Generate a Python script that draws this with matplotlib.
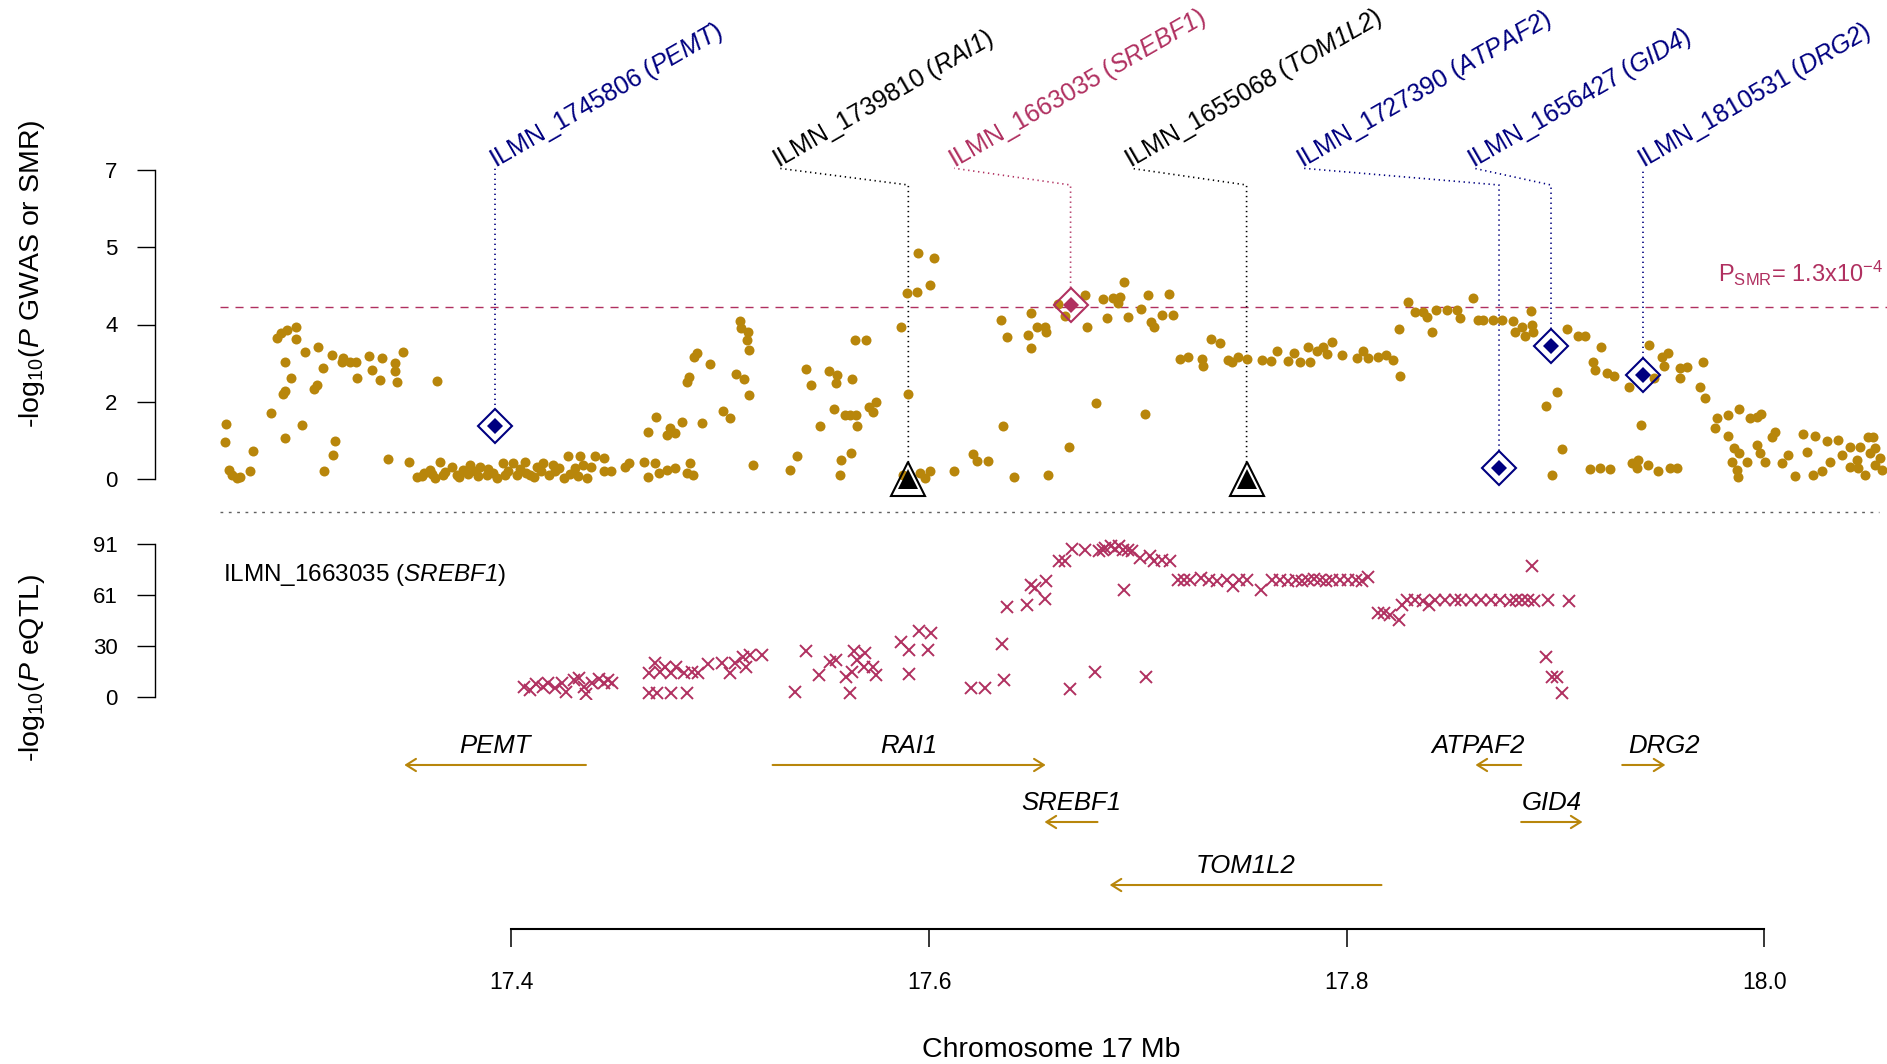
import matplotlib
matplotlib.use("Agg")
import matplotlib.pyplot as plt

plt.rcParams['font.family'] = ['Liberation Sans', 'DejaVu Sans']
plt.rcParams['mathtext.fontset'] = 'custom'
plt.rcParams['mathtext.rm'] = 'Liberation Sans'
plt.rcParams['mathtext.it'] = 'Liberation Sans:italic'
plt.rcParams['mathtext.bf'] = 'Liberation Sans:bold'
# \mathsf is used for gene names so their digits come out italic as well
plt.rcParams['mathtext.sf'] = 'Liberation Sans:italic'

GOLD = '#B8860B'
MAROON = '#B03060'
NAVY = '#000080'

# GWAS -log10(P) along chr17 (Mb)
gwas_mb = [
    17.2633, 17.2627, 17.2649, 17.2660, 17.2685, 17.2700, 17.2748, 17.2761, 17.2847, 17.2916,
    17.2908, 17.2916, 17.2945, 17.2916, 17.2879, 17.2897, 17.2924, 17.2966, 17.2967, 17.2996,
    17.3012, 17.3055, 17.3071, 17.3072, 17.3100, 17.3103, 17.3144, 17.3155, 17.3143, 17.3187,
    17.3195, 17.3227, 17.3254, 17.3261, 17.3317, 17.3333, 17.3373, 17.3381, 17.3441, 17.3441,
    17.3451, 17.3481, 17.3646, 17.3411, 17.3511,
    17.3547, 17.3580, 17.3610, 17.3634, 17.3658, 17.3674, 17.3714, 17.3738, 17.3770, 17.3802,
    17.3826, 17.3850, 17.3882, 17.3930, 17.3962, 17.3986, 17.4010, 17.4026, 17.4065, 17.4090,
    17.4121, 17.4153, 17.4200, 17.4210, 17.4250, 17.4273, 17.4305, 17.4330, 17.4345, 17.4360,
    17.4400, 17.3570, 17.3620, 17.3680, 17.3750, 17.3790, 17.3840, 17.3890, 17.3910, 17.3970,
    17.4040, 17.4070, 17.4110, 17.4140, 17.4180, 17.4230, 17.4280, 17.4320, 17.4380,
    17.4442, 17.4442, 17.4477, 17.4545, 17.4561, 17.4633, 17.4656, 17.4688, 17.4705, 17.4744,
    17.4784, 17.4856, 17.4840, 17.4871, 17.4656, 17.4691, 17.4744, 17.4760, 17.4784, 17.4815,
    17.4913, 17.4839, 17.4850, 17.4876, 17.4890, 17.4949, 17.5015, 17.5048, 17.5075, 17.5114,
    17.5140, 17.5095, 17.5098, 17.5135, 17.5130, 17.5136, 17.5159, 17.5334, 17.5368, 17.5411,
    17.5433, 17.5478, 17.5523, 17.5558, 17.5553, 17.5631, 17.5545, 17.5598, 17.5622, 17.5649,
    17.5657, 17.5577, 17.5627, 17.5575, 17.5645, 17.5698, 17.5714, 17.5733, 17.5744, 17.5864,
    17.5896, 17.5941, 17.5949, 17.6022, 17.6006, 17.5900, 17.5877, 17.5957, 17.6005, 17.5980,
    17.6119, 17.6209, 17.6228, 17.6284, 17.6356, 17.6409, 17.6343, 17.6372, 17.6476, 17.6487,
    17.6489, 17.6516,
    17.6556, 17.6560, 17.6620, 17.6652, 17.6748, 17.6756, 17.6835, 17.6851, 17.6883, 17.6907,
    17.6915, 17.6936, 17.6955, 17.7014, 17.7050, 17.7062, 17.7078, 17.7117, 17.7148, 17.7170,
    17.6798, 17.7035, 17.6671, 17.6572, 17.7202, 17.7242, 17.7309, 17.7312, 17.7350, 17.7393,
    17.7434, 17.7450, 17.7482, 17.7522, 17.7593, 17.7636, 17.7668, 17.7720, 17.7749, 17.7777,
    17.7817, 17.7825, 17.7860, 17.7888, 17.7904, 17.7928, 17.7978, 17.8048, 17.8080, 17.8104,
    17.8152, 17.8189, 17.8221, 17.8256, 17.8253, 17.8293, 17.8328, 17.8368, 17.8384, 17.8408,
    17.8429, 17.8479, 17.8528, 17.8543, 17.8604, 17.8631,
    17.8655, 17.8703, 17.8743, 17.8799, 17.8807, 17.8839, 17.8855, 17.8884, 17.8887, 17.8895,
    17.9055, 17.9106, 17.9143, 17.9217, 17.9182, 17.9190, 17.9246, 17.9283, 17.9351, 17.9449,
    17.9509, 17.9538, 17.9518, 17.9470, 17.9596, 17.9628, 17.9599, 17.9709, 17.9693, 17.9717,
    17.9009, 17.8955, 17.9410, 17.9033, 17.8982, 17.9166, 17.9214, 17.9262, 17.9365, 17.9397,
    17.9389, 17.9445, 17.9493, 17.9549, 17.9581, 17.9772, 17.9764, 17.9828, 17.9877, 17.9932,
    17.9983, 17.9964, 17.9827, 17.9854, 17.9846, 17.9870, 17.9873, 17.9877, 17.9917, 17.9965,
    17.9981, 18.0005, 18.0037, 18.0053, 18.0085, 18.0114, 18.0149, 18.0184, 18.0204, 18.0244,
    18.0236, 18.0276, 18.0303, 18.0316, 18.0352, 18.0371, 18.0411, 18.0411, 18.0443, 18.0459,
    18.0483, 18.0499, 18.0523, 18.0507, 18.0531, 18.0555, 18.0563, 18.0451, 18.0531,
]
gwas_p = [
    1.24, 0.84, 0.20, 0.09, 0.02, 0.05, 0.19, 0.64, 1.50, 0.94,
    1.92, 2.00, 2.29, 2.64, 3.19, 3.30, 3.38, 3.45, 3.17, 1.22,
    2.87, 2.05, 2.14, 2.99, 2.51, 0.17, 0.54, 0.85, 2.81, 2.64,
    2.74, 2.66, 2.65, 2.29, 2.79, 2.47, 2.24, 2.75, 2.62, 2.45,
    2.20, 2.87, 2.21, 0.45, 0.38,
    0.04, 0.13, 0.20, 0.02, 0.39, 0.09, 0.28, 0.09, 0.20, 0.32,
    0.17, 0.28, 0.09, 0.02, 0.36, 0.17, 0.36, 0.09, 0.39, 0.09,
    0.28, 0.36, 0.32, 0.17, 0.02, 0.51, 0.24, 0.51, 0.32, 0.02,
    0.51, 0.07, 0.11, 0.15, 0.05, 0.12, 0.06, 0.22, 0.13, 0.08,
    0.23, 0.14, 0.05, 0.19, 0.10, 0.26, 0.12, 0.06, 0.27,
    0.47, 0.17, 0.17, 0.28, 0.36, 0.38, 0.05, 0.36, 0.13, 0.20,
    0.24, 0.36, 0.13, 0.09, 1.06, 1.41, 1.00, 1.15, 1.04, 1.30,
    1.26, 2.19, 2.32, 2.77, 2.85, 2.60, 1.53, 1.39, 2.38, 2.26,
    1.90, 3.57, 3.42, 3.34, 3.14, 2.92, 0.31, 0.20, 0.52, 2.49,
    2.13, 1.21, 2.44, 2.36, 2.18, 2.26, 1.59, 1.44, 1.44, 1.44,
    1.21, 0.43, 0.58, 0.09, 3.14, 3.14, 1.63, 1.51, 1.74, 3.45,
    4.21, 4.23, 5.12, 5.00, 4.39, 1.93, 0.09, 0.13, 0.17, 0.02,
    0.18, 0.57, 0.41, 0.41, 1.20, 0.05, 3.61, 3.21, 3.27, 3.75,
    2.96, 3.45,
    3.45, 3.32, 3.97, 3.70, 4.16, 3.45, 4.08, 3.64, 4.10, 3.98,
    4.13, 4.47, 3.67, 3.85, 4.16, 3.56, 3.45, 3.71, 4.18, 3.72,
    1.73, 1.47, 0.72, 0.08, 2.72, 2.76, 2.72, 2.55, 3.17, 3.08,
    2.70, 2.65, 2.77, 2.72, 2.70, 2.68, 2.89, 2.68, 2.85, 2.66,
    2.98, 2.66, 2.89, 3.00, 2.83, 3.11, 2.82, 2.74, 2.91, 2.74,
    2.77, 2.81, 2.70, 2.34, 3.39, 4.02, 3.78, 3.79, 3.68, 3.33,
    3.83, 3.82, 3.83, 3.64, 4.10, 3.61,
    3.61, 3.61, 3.61, 3.57, 3.34, 3.45, 3.23, 3.81, 3.49, 3.34,
    3.39, 3.25, 3.25, 2.98, 2.65, 2.46, 2.41, 2.34, 2.09, 3.03,
    2.77, 2.85, 2.55, 2.28, 2.51, 2.53, 2.28, 2.65, 2.09, 1.83,
    1.96, 1.66, 1.23, 0.67, 0.08, 0.23, 0.26, 0.22, 0.37, 0.43,
    0.24, 0.32, 0.17, 0.24, 0.24, 1.38, 1.15, 1.45, 1.59, 1.39,
    1.47, 1.41, 0.98, 0.70, 0.39, 0.20, 0.05, 0.58, 0.39, 0.77,
    0.58, 0.39, 0.96, 1.07, 0.36, 0.54, 0.07, 1.02, 0.62, 0.98,
    0.09, 0.17, 0.85, 0.39, 0.88, 0.54, 0.73, 0.28, 0.43, 0.73,
    0.09, 0.96, 0.96, 0.58, 0.32, 0.47, 0.20, 0.24, 0.70,
]

# eQTL -log10(P) for probe ILMN_1663035 (SREBF1)
eqtl_mb = [
    17.4060, 17.4087, 17.4118, 17.4152, 17.4177, 17.4211, 17.4242, 17.4263, 17.4299, 17.4325,
    17.4346, 17.4359, 17.4385, 17.4418, 17.4444, 17.4463, 17.4483,
    17.4658, 17.4689, 17.4710, 17.4736, 17.4762, 17.4787, 17.4826, 17.4865, 17.4896, 17.4943,
    17.5007, 17.5046, 17.5072, 17.5111, 17.5124, 17.5145, 17.5202,
    17.4658, 17.4697, 17.4762, 17.4839,
    17.5358, 17.5410, 17.5475, 17.5527, 17.5553, 17.5603, 17.5624, 17.5629, 17.5642, 17.5655,
    17.5694, 17.5689, 17.5733, 17.5746, 17.5865, 17.5905, 17.5905, 17.5951, 17.5995, 17.6008,
    17.6203, 17.6268, 17.6358,
    17.6348, 17.6373, 17.6471, 17.6490, 17.6509, 17.6557, 17.6560, 17.6622, 17.6650, 17.6676,
    17.6683, 17.6746, 17.6797, 17.6831, 17.6813, 17.6841, 17.6870, 17.6889, 17.6908, 17.6927,
    17.6955, 17.6974, 17.6935, 17.7011, 17.7040, 17.7059, 17.7078, 17.7116, 17.7153, 17.7191,
    17.7220, 17.7248, 17.7305, 17.7343, 17.7381, 17.7428, 17.7456, 17.7485, 17.7523, 17.7592,
    17.7645, 17.7683, 17.7721, 17.7759, 17.7788, 17.7816, 17.7845, 17.7873, 17.7902, 17.7930,
    17.7968, 17.8006, 17.8044, 17.8073, 17.8101, 17.8149, 17.8177, 17.8206, 17.8253, 17.8263,
    17.8291, 17.8329, 17.8367, 17.8396, 17.8424, 17.8472, 17.8519, 17.8548, 17.8595, 17.8642,
    17.8690, 17.8737, 17.8784, 17.8813, 17.8841, 17.8870, 17.8889, 17.8898, 17.8964, 17.9063,
    17.8955, 17.8983, 17.9008, 17.9031,
]
eqtl_p = [
    6.1, 4.2, 7.7, 6.1, 8.1, 5.2, 8.1, 3.2, 10.1, 11.1,
    6.1, 1.8, 8.1, 10.5, 8.1, 10.1, 8.5,
    14.1, 20.0, 15.1, 18.0, 14.1, 18.0, 14.5, 15.1, 14.1, 19.6,
    20.0, 14.1, 20.0, 24.0, 18.0, 25.0, 25.0,
    2.6, 2.6, 2.2, 2.2,
    3.2, 27.0, 13.1, 21.0, 22.0, 12.1, 2.2, 15.1, 27.0, 22.0,
    26.0, 18.0, 18.0, 13.1, 32.9, 13.7, 28.0, 38.9, 28.0, 37.9,
    5.2, 5.2, 10.1,
    31.5, 53.1, 54.7, 66.6, 64.6, 58.1, 69.0, 80.5, 80.5, 4.8,
    87.8, 87.4, 15.1, 87.4, 86.4, 88.4, 89.8, 87.8, 89.4, 87.4,
    87.4, 86.4, 63.6, 82.5, 12.1, 83.5, 80.5, 81.5, 80.5, 69.6,
    69.6, 69.6, 70.6, 69.6, 68.6, 69.2, 65.6, 69.2, 69.2, 63.2,
    69.6, 69.2, 68.6, 69.6, 68.6, 69.6, 70.0, 69.2, 68.6, 69.6,
    69.2, 69.2, 69.6, 68.6, 71.2, 49.8, 49.8, 48.8, 45.8, 54.7,
    57.7, 57.7, 56.7, 54.7, 57.7, 57.3, 57.7, 57.7, 57.3, 57.7,
    57.3, 57.7, 56.7, 57.7, 57.3, 57.7, 77.9, 56.7, 57.7, 57.1,
    23.6, 12.1, 12.1, 2.6,
]

# SMR probes: position, -log10(P_SMR), label anchor, marker, colour
probe_ids = ['ILMN_1745806', 'ILMN_1739810', 'ILMN_1663035', 'ILMN_1655068',
             'ILMN_1727390', 'ILMN_1656427', 'ILMN_1810531']
probe_genes = ['PEMT', 'RAI1', 'SREBF1', 'TOM1L2', 'ATPAF2', 'GID4', 'DRG2']
probe_mb = [17.3922, 17.5901, 17.6678, 17.7521, 17.8730, 17.8979, 17.9421]
probe_smr = [1.19, 0.0, 3.95, 0.0, 0.26, 3.02, 2.36]
probe_label_mb = [17.3922, 17.5280, 17.6120, 17.6965, 17.7790, 17.8610, 17.9421]
probe_marker = ['D', '^', 'D', '^', 'D', 'D', 'D']
probe_color = [NAVY, 'black', MAROON, 'black', NAVY, NAVY, NAVY]

smr_threshold = 3.886  # -log10(1.3e-4)

# gene track
gene_names = ['PEMT', 'RAI1', 'ATPAF2', 'DRG2', 'SREBF1', 'GID4', 'TOM1L2']
gene_start = [17.3487, 17.5251, 17.8617, 17.9320, 17.6553, 17.8836, 17.6865]
gene_end = [17.4357, 17.6559, 17.8836, 17.9527, 17.6807, 17.9130, 17.8167]
gene_strand = ['-', '+', '-', '+', '-', '+', '-']
gene_row = [1, 1, 1, 1, 2, 2, 3]
gene_label_mb = [17.3922, 17.5905, 17.8628, 17.9522, 17.6680, 17.8983, 17.7516]

W, H = 1887.0, 1064.0
XLIM = (17.26044, 18.05881)
ROW_Y = {1: 1.0, 2: 1.95, 3: 3.0}


def frame(left, top, right, bottom):
    return [left / W, 1 - bottom / H, (right - left) / W, (bottom - top) / H]


def style_yaxis(ax):
    for s in ['top', 'right', 'bottom']:
        ax.spines[s].set_visible(False)
    ax.spines['left'].set_position(('outward', 46.8))
    ax.spines['left'].set_linewidth(1.0)
    ax.set_xticks([])
    ax.tick_params(axis='y', length=13, width=1.0, pad=14, labelsize=16)
    ax.set_xlim(*XLIM)


fig = plt.figure(figsize=(W / 100, H / 100), dpi=100)

# top panel: GWAS + SMR
ax1 = fig.add_axes(frame(220, 170, 1887, 479))
style_yaxis(ax1)
ax1.set_ylim(0, 7)
ax1.set_yticks([0, 1.75, 3.5, 5.25, 7])
ax1.set_yticklabels(['0', '2', '4', '5', '7'])

ax1.plot(gwas_mb, gwas_p, 'o', color=GOLD, ms=7.2, mew=0, clip_on=False, zorder=2)
ax1.axhline(smr_threshold, color=MAROON, lw=1.0, dashes=(5.8, 5.0), zorder=1)
ax1.axhline(-0.737, xmin=0, xmax=0.995, color='#606060', lw=1.0,
            ls=(0, (2, 4)), clip_on=False)
ax1.text(18.0569, 4.46, r'P$_{\mathrm{SMR}}$= 1.3x10$^{-4}$', color=MAROON,
         fontsize=17, ha='right', va='baseline')

for pid, gene, m, p, lab, mk, c in zip(probe_ids, probe_genes, probe_mb, probe_smr,
                                       probe_label_mb, probe_marker, probe_color):
    ax1.plot([m, m, lab], [p + 0.38, 6.66, 7.04], color=c, lw=1.2,
             ls=(0, (0.8, 2.2)), clip_on=False, zorder=1)
    if mk == 'D':
        ax1.plot(m, p, 'D', ms=17, mfc='none', mec=c, mew=1.5, clip_on=False, zorder=4)
        ax1.plot(m, p, 'D', ms=8.5, color=c, mew=0, clip_on=False, zorder=5)
    else:
        ax1.plot(m, p, '^', ms=25, mfc='none', mec=c, mew=1.5, clip_on=False, zorder=4)
        ax1.plot(m, p, '^', ms=15, color=c, mew=0, clip_on=False, zorder=5)
    ax1.text(lab, 7.04, pid + r' ($\mathsf{' + gene + '}$)', color=c, fontsize=18,
             rotation=30, rotation_mode='anchor', ha='left', va='baseline')

# middle panel: eQTL
ax2 = fig.add_axes(frame(220, 543.5, 1887, 697))
style_yaxis(ax2)
ax2.set_ylim(0, 91)
ax2.set_yticks([0, 91 / 3, 182 / 3, 91])
ax2.set_yticklabels(['0', '30', '61', '91'])
ax2.plot(eqtl_mb, eqtl_p, 'x', color=MAROON, ms=8, mew=1.4, clip_on=False)
ax2.text(17.2617, 72.6, r'ILMN_1663035 ($\mathsf{SREBF1}$)', fontsize=17.5,
         ha='left', va='center')

# bottom panel: genes + position axis
ax3 = fig.add_axes(frame(220, 700, 1887, 929))
for s in ['top', 'right', 'left']:
    ax3.spines[s].set_visible(False)
ax3.set_xlim(*XLIM)
ax3.set_ylim(3.733, -0.083)
ax3.set_yticks([])
ax3.spines['bottom'].set_bounds(17.4, 18.0)
ax3.spines['bottom'].set_linewidth(1.5)
ax3.set_xticks([17.4, 17.6, 17.8, 18.0])
ax3.set_xticklabels(['17.4', '17.6', '17.8', '18.0'])
ax3.tick_params(axis='x', length=13, width=1.1, pad=17, labelsize=16.5)

for name, s, e, strand, row, lx in zip(gene_names, gene_start, gene_end,
                                       gene_strand, gene_row, gene_label_mb):
    tail, head = (s, e) if strand == '+' else (e, s)
    y = ROW_Y[row]
    ax3.annotate('', xy=(head, y), xytext=(tail, y),
                 arrowprops=dict(arrowstyle='->,head_length=0.35,head_width=0.22',
                                 color=GOLD, lw=1.5, shrinkA=0, shrinkB=0,
                                 mutation_scale=20))
    ax3.text(lx, y - 0.2, name, fontsize=18.5, style='italic',
             ha='center', va='baseline')

fig.text(32 / W, 1 - 274 / H, r'-log$_{10}$($\mathit{P}$ GWAS or SMR)',
         rotation=90, ha='center', va='center', fontsize=20.5)
fig.text(32 / W, 1 - 668 / H, r'-log$_{10}$($\mathit{P}$ eQTL)',
         rotation=90, ha='center', va='center', fontsize=20.5)
fig.text(1051 / W, 1 - 1050 / H, 'Chromosome 17 Mb', ha='center', va='center',
         fontsize=20.5)

fig.savefig('out.png', dpi=100)
